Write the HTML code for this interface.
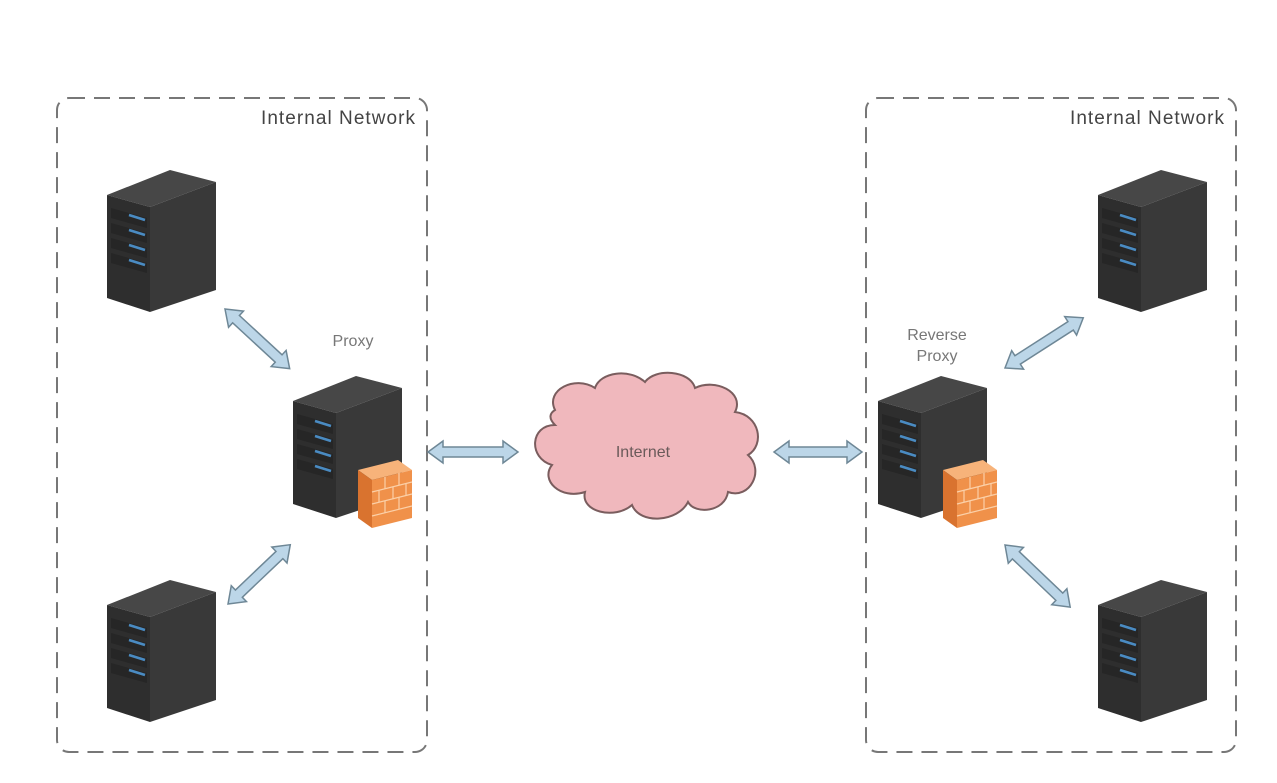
<!DOCTYPE html>
<html><head><meta charset="utf-8"><style>
html,body{margin:0;padding:0;background:#fff;}
svg{display:block;font-family:"Liberation Sans",sans-serif;}
</style></head><body>
<svg width="1277" height="783" viewBox="0 0 1277 783" xmlns="http://www.w3.org/2000/svg">
<defs>
<g id="srv">
  <polygon points="0,27 63,2 109,14 43,39" fill="#474747"/>
  <polygon points="0,27 43,39 43,144 0,130" fill="#2e2e2e"/>
  <polygon points="43,39 109,14 109,122 43,144" fill="#393939"/>
  <g fill="#262626">
    <polygon points="4,40 40,50 40,60 4,50"/>
    <polygon points="4,55 40,65 40,75 4,65"/>
    <polygon points="4,70 40,80 40,90 4,80"/>
    <polygon points="4,85 40,95 40,105 4,95"/>
  </g>
  <g stroke="#4a8bc2" stroke-width="2.5">
    <line x1="22" y1="47" x2="38" y2="52"/>
    <line x1="22" y1="62" x2="38" y2="67"/>
    <line x1="22" y1="77" x2="38" y2="82"/>
    <line x1="22" y1="92" x2="38" y2="97"/>
  </g>
</g>
<g id="fw">
  <polygon points="0,10 40,0 54,10 14,20" fill="#f7b37a"/>
  <polygon points="14,20 54,10 54,58 14,68" fill="#f0914a"/>
  <polygon points="0,10 14,20 14,68 0,58" fill="#d9732f"/>
  <g stroke="#fbd0a8" stroke-width="1.2">
    <line x1="14" y1="32" x2="54" y2="22"/><line x1="14" y1="44" x2="54" y2="34"/><line x1="14" y1="56" x2="54" y2="46"/>
    <line x1="27" y1="17" x2="27" y2="29"/><line x1="41" y1="13" x2="41" y2="25"/>
    <line x1="21" y1="30" x2="21" y2="42"/><line x1="35" y1="27" x2="35" y2="39"/><line x1="48" y1="23" x2="48" y2="35"/>
    <line x1="27" y1="41" x2="27" y2="53"/><line x1="41" y1="37" x2="41" y2="49"/>
  </g>
</g>
</defs>

<rect x="57" y="98" width="370" height="654" rx="12" fill="none" stroke="#777" stroke-width="2" stroke-dasharray="16,9"/>
<rect x="866" y="98" width="370" height="654" rx="12" fill="none" stroke="#777" stroke-width="2" stroke-dasharray="16,9"/>
<text x="261" y="124" font-size="19" fill="#444" textLength="154">Internal Network</text>
<text x="1070" y="124" font-size="19" fill="#444" textLength="154">Internal Network</text>

<use href="#srv" x="107" y="168"/>
<use href="#srv" x="107" y="578"/>
<use href="#srv" x="293" y="374"/>
<use href="#srv" x="1098" y="168"/>
<use href="#srv" x="1098" y="578"/>
<use href="#srv" x="878" y="374"/>
<use href="#fw" x="358" y="460"/>
<use href="#fw" x="943" y="460"/>

<text x="353" y="346" font-size="16" fill="#777" text-anchor="middle">Proxy</text>
<text x="937" y="340" font-size="16" fill="#777" text-anchor="middle">Reverse</text>
<text x="937" y="361" font-size="16" fill="#777" text-anchor="middle">Proxy</text>

<g fill="#bcd6e8" stroke="#6e8796" stroke-width="1.5">
  <g transform="translate(225,309) rotate(42.7)"><polygon points="0,0 15,-11 15,-5 73,-5 73,-11 88,0 73,11 73,5 15,5 15,11"/></g>
  <g transform="translate(228,604) rotate(-43.6)"><polygon points="0,0 15,-11 15,-5 71,-5 71,-11 86,0 71,11 71,5 15,5 15,11"/></g>
  <g transform="translate(428,452)"><polygon points="0,0 15,-11 15,-5 75,-5 75,-11 90,0 75,11 75,5 15,5 15,11"/></g>
  <g transform="translate(774,452)"><polygon points="0,0 15,-11 15,-5 73,-5 73,-11 88,0 73,11 73,5 15,5 15,11"/></g>
  <g transform="translate(1005,368) rotate(-32.7)"><polygon points="0,0 15,-11 15,-5 78,-5 78,-11 93,0 78,11 78,5 15,5 15,11"/></g>
  <g transform="translate(1005,545) rotate(43.6)"><polygon points="0,0 15,-11 15,-5 75,-5 75,-11 90,0 75,11 75,5 15,5 15,11"/></g>
</g>

<path d="M555,410 C545,390 575,375 595,388 C600,372 630,368 645,382 C655,368 690,370 695,388 C715,378 745,392 735,412 C760,415 765,445 748,455 C765,470 750,500 728,492 C725,512 695,515 688,502 C678,522 640,525 632,505 C615,520 580,512 585,492 C560,500 540,480 552,465 C528,458 530,425 555,425 C548,418 550,413 555,410 Z" fill="#f0b8bd" stroke="#7a5d5e" stroke-width="2"/>
<text x="643" y="457" font-size="16" fill="#6a5a5a" text-anchor="middle">Internet</text>
</svg>
</body></html>
